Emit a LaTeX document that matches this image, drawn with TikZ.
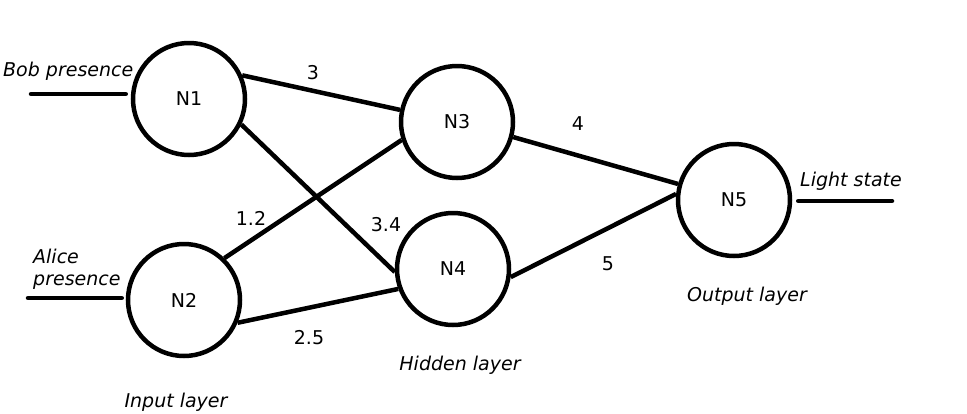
\documentclass[tikz,border=0pt]{standalone}
\usepackage{fontspec}
\setmainfont{DejaVu Sans}

\begin{document}
\begin{tikzpicture}[x=1pt,y=-1pt,
  font=\fontsize{19}{22}\selectfont,
  neuron/.style={circle,draw,line width=4.5pt,minimum size=112pt,inner sep=0pt},
  link/.style={line width=4.5pt},
  wire/.style={line width=4.5pt,line cap=round},
  caption/.style={font=\fontsize{19}{22}\selectfont\itshape,inner sep=0pt},
  weight/.style={inner sep=0pt}]
  \useasboundingbox (0,0) rectangle (967,413);
  % Neurons of the three layers.
  \node[neuron] (N1) at (189,99) {N1};
  \node[neuron] (N2) at (184,300) {N2};
  \node[neuron] (N3) at (457,122) {N3};
  \node[neuron] (N4) at (453,269) {N4};
  \node[neuron] (N5) at (734,200) {N5};
  % Weighted connections between the layers.
  \foreach \a/\b in {N1.24/N3.168,N1.-26/N4.183,N2.46/N3.198,
                     N2.-23/N4.200,N3.-15/N5.164,N4.-8/N5.174}
    \draw[link] (\a) -- (\b);
  \foreach \n/\x/\y/\w in {w13/313/73/3,w14/386/225/3.4,w23/251/218/1.2,
                           w24/309/338/2.5,w35/578/124/4,w45/608/264/5}
    \node[weight] (\n) at (\x,\y) {\w};
  % Inputs and output.
  \coordinate (bobin) at (31,94);
  \coordinate (alicein) at (28,298);
  \coordinate (lightout) at (892,201);
  \draw[wire,shorten >=5pt] (bobin) -- (bobin -| N1.west);
  \draw[wire,shorten >=4pt] (alicein) -- (alicein -| N2.west);
  \draw[wire,shorten <=6pt] (N5.east |- lightout) -- (lightout);
  \node[caption,anchor=west] (bob) at (3,71) {Bob presence};
  \node[caption,anchor=west,align=left] (alice) at (33,269) {Alice\\presence};
  \node[caption,anchor=west] (light) at (800,181) {Light state};
  % Layer names.
  \node[caption] (inlayer) at (176,402) {Input layer};
  \node[caption] (hidlayer) at (460,365) {Hidden layer};
  \node[caption] (outlayer) at (747,296) {Output layer};
\end{tikzpicture}
\end{document}
